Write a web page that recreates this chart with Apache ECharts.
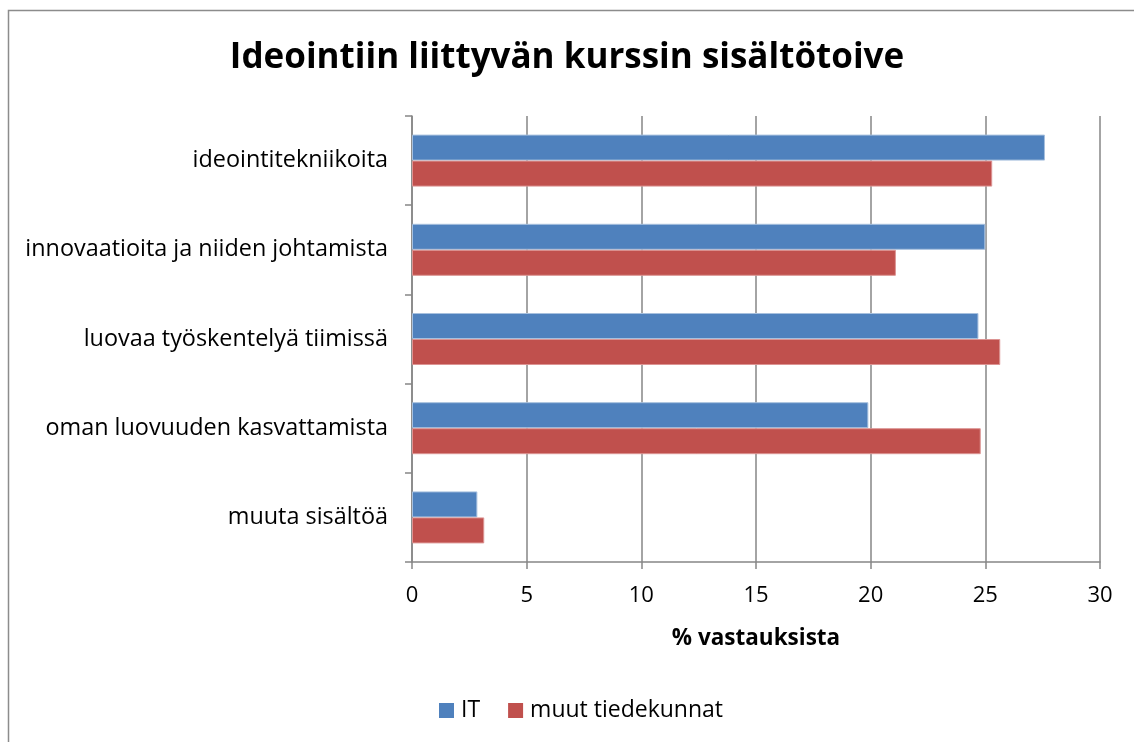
<!DOCTYPE html>
<html><head><meta charset="utf-8">
<script src="https://cdn.jsdelivr.net/npm/echarts@6/dist/echarts.min.js"></script>
<style>html,body{margin:0;padding:0;background:#fff}#c{width:1134px;height:742px}</style>
</head><body><div id="c"></div>
<script>
const categories = ['ideointitekniikoita','innovaatioita ja niiden johtamista','luovaa työskentelyä tiimissä','oman luovuuden kasvattamista','muuta sisältöä'];
const itValues = [27.6, 25.0, 24.7, 19.9, 2.85];
const otherValues = [25.3, 21.1, 25.65, 24.8, 3.15];
const seriesNames = ['IT', 'muut tiedekunnat'];
const xTicks = [0, 5, 10, 15, 20, 25, 30];
const FONT = '"Open Sans", sans-serif';
const chart = echarts.init(document.getElementById('c'));
chart.setOption({
  animation: false,
  title: { text: 'Ideointiin liittyvän kurssin sisältötoive', left: 'center', top: 36,
    textStyle: { fontFamily: FONT, fontWeight: 'bold', fontSize: 35, color: '#000' } },
  graphic: [{ type: 'rect', shape: { x: 8.5, y: 10.5, width: 1300, height: 900 },
    style: { fill: 'none', stroke: '#8c8c8c', lineWidth: 1.5 }, silent: true }],
  legend: { top: 694, left: 434, itemWidth: 15, itemHeight: 15, itemGap: 28,
    icon: 'rect', itemStyle: { borderWidth: 0 },
    textStyle: { fontFamily: FONT, fontSize: 23, color: '#000', padding: [0, 0, 0, 2] },
    data: seriesNames },
  grid: { left: 412, right: 34, top: 116, bottom: 180 },
  xAxis: { type: 'value', min: 0, max: 30, interval: 5,
    name: '% vastauksista', nameLocation: 'middle', nameGap: 65,
    nameTextStyle: { fontFamily: FONT, fontWeight: 'bold', fontSize: 22.5, color: '#000' },
    axisLine: { show: true, lineStyle: { color: '#868686', width: 1.5 } },
    axisTick: { show: true, length: 7, lineStyle: { color: '#868686', width: 1.5 } },
    axisLabel: { fontFamily: FONT, fontSize: 22, color: '#000', margin: 23,
      formatter: v => xTicks.includes(v) ? String(v) : '' },
    splitLine: { show: true, lineStyle: { color: '#868686', width: 1.5 } } },
  yAxis: { type: 'category', data: categories, inverse: true,
    axisLine: { show: true, lineStyle: { color: '#868686', width: 1.5 } },
    axisTick: { show: true, length: 7, alignWithLabel: false, lineStyle: { color: '#868686', width: 1.5 } },
    axisLabel: { fontFamily: FONT, fontSize: 23.4, color: '#000', margin: 24 } },
  series: [
    { name: seriesNames[0], type: 'bar', data: itValues, barWidth: 26, barGap: '0%',
      itemStyle: { color: '#4f81bd', borderColor: '#a7c0de', borderWidth: 1 } },
    { name: seriesNames[1], type: 'bar', data: otherValues, barWidth: 26, barGap: '0%',
      itemStyle: { color: '#c0504d', borderColor: '#dc9493', borderWidth: 1 } }
  ]
});
</script></body></html>
